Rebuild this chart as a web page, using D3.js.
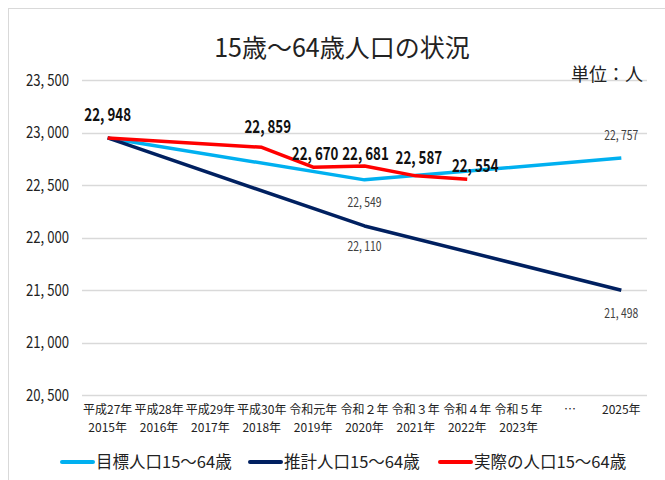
<!DOCTYPE html>
<html>
<head>
<meta charset="utf-8">
<script src="https://cdn.jsdelivr.net/npm/d3@7"></script>
<style>
  body { margin: 0; background: #fff; }
  svg { font-family: "Noto Sans CJK JP", sans-serif; }
</style>
</head>
<body>
<svg id="chart" width="665" height="480"></svg>
<script>
// categories (two-line labels)
const categories = [
    ['平成27年', '2015年'], ['平成28年', '2016年'], ['平成29年', '2017年'],
    ['平成30年', '2018年'], ['令和元年', '2019年'], ['令和２年', '2020年'],
    ['令和３年', '2021年'], ['令和４年', '2022年'], ['令和５年', '2023年'],
    ['…', ''], ['2025年', '']
];
const targetValues = [22948, null, null, null, null, 22549, null, null, null, null, 22757];
const estimateValues = [22948, null, null, null, null, 22110, null, null, null, null, 21498];
const actualValues = [22948, null, null, 22859, 22670, 22681, 22587, 22554, null, null, null];
const yTicks = [20500, 21000, 21500, 22000, 22500, 23000, 23500];

const series = [
    { name: '目標人口15～64歳', values: targetValues, color: '#00B0F0', labels: [5, 10], dy: { 5: 27, 10: -18 } },
    { name: '推計人口15～64歳', values: estimateValues, color: '#002060', labels: [5, 10], dy: { 5: 25, 10: 28 } },
    { name: '実際の人口15～64歳', values: actualValues, color: '#FF0000', labels: [0, 3, 4, 5, 6, 7], bold: true,
      dx: { 0: 0, 3: 6, 4: 2, 5: 1, 6: 3, 7: 8 },
      dy: { 0: -17, 3: -14, 4: -7, 5: -6, 6: -12, 7: -7 } }
];

const svg = d3.select('#chart');
const margin = { left: 82, right: 18 };
const width = 665;

// chart frame
svg.append('rect')
    .attr('x', 8.5).attr('y', 8.5)
    .attr('width', 670).attr('height', 480)
    .attr('fill', 'none')
    .attr('stroke', '#d9d9d9');

const x = d3.scaleBand()
    .domain(d3.range(categories.length))
    .range([margin.left, width - margin.right]);

const y = d3.scaleLinear()
    .domain([20500, 23500])
    .range([395, 80]);

const cx = i => x(i) + x.bandwidth() / 2;

// gridlines
svg.append('g')
    .selectAll('line')
    .data(yTicks)
    .enter()
    .append('line')
    .attr('x1', margin.left)
    .attr('x2', width - margin.right)
    .attr('y1', d => Math.round(y(d)) + 0.5)
    .attr('y2', d => Math.round(y(d)) + 0.5)
    .attr('stroke', '#d9d9d9')
    .attr('stroke-width', 1.3);

// y axis labels (horizontally condensed like the original font)
const fmt = d => d3.format(',')(d).replace(',', ', ');
svg.append('g')
    .selectAll('text')
    .data(yTicks)
    .enter()
    .append('text')
    .attr('transform', d => `translate(69,${y(d)}) scale(0.82,1)`)
    .attr('dy', '0.35em')
    .attr('text-anchor', 'end')
    .attr('font-size', 16)
    .attr('fill', '#222')
    .text(fmt);

// x axis labels
const xl = svg.append('g')
    .selectAll('text')
    .data(categories)
    .enter()
    .append('text')
    .attr('text-anchor', 'middle')
    .attr('font-size', 12)
    .attr('fill', '#222');
xl.append('tspan')
    .attr('x', (d, i) => cx(i))
    .attr('y', 414)
    .text(d => d[0]);
xl.append('tspan')
    .attr('x', (d, i) => cx(i))
    .attr('y', 432)
    .text(d => d[1]);

// lines (drawn through the given points)
const line = d3.line()
    .x(d => cx(d.i))
    .y(d => y(d.v));

series.forEach(s => {
    const pts = s.values.map((v, i) => ({ i, v })).filter(d => d.v !== null);
    svg.append('path')
        .datum(pts)
        .attr('fill', 'none')
        .attr('stroke', s.color)
        .attr('stroke-width', 3.5)
        .attr('stroke-linejoin', 'round')
        .attr('d', line);
});

// data labels
series.forEach(s => {
    svg.append('g')
        .selectAll('text')
        .data(s.labels)
        .enter()
        .append('text')
        .attr('transform', i => {
            const dx = s.dx ? s.dx[i] : 0;
            return `translate(${cx(i) + dx},${y(s.values[i]) + s.dy[i]}) scale(${s.bold ? 0.74 : 0.8},1)`;
        })
        .attr('text-anchor', 'middle')
        .attr('font-size', s.bold ? 18 : 13)
        .attr('font-weight', s.bold ? 'bold' : 'normal')
        .attr('fill', s.bold ? '#111' : '#404040')
        .text(i => fmt(s.values[i]));
});

// title
svg.append('text')
    .attr('x', 342)
    .attr('y', 57)
    .attr('text-anchor', 'middle')
    .attr('font-size', 25)
    .attr('fill', '#222')
    .text('15歳～64歳人口の状況');

svg.append('text')
    .attr('x', 643)
    .attr('y', 81)
    .attr('text-anchor', 'end')
    .attr('font-size', 18)
    .attr('fill', '#222')
    .text('単位：人');

// legend
const legendX = [62, 250, 440];
const legend = svg.append('g')
    .selectAll('g')
    .data(series)
    .enter()
    .append('g')
    .attr('transform', (d, i) => `translate(${legendX[i]},462)`);
legend.append('line')
    .attr('x1', 0).attr('x2', 31)
    .attr('stroke', d => d.color)
    .attr('stroke-width', 4)
    .attr('stroke-linecap', 'round');
legend.append('text')
    .attr('x', 34)
    .attr('dy', '0.35em')
    .attr('font-size', 16.5)
    .attr('fill', '#222')
    .text(d => d.name);
</script>
</body>
</html>
